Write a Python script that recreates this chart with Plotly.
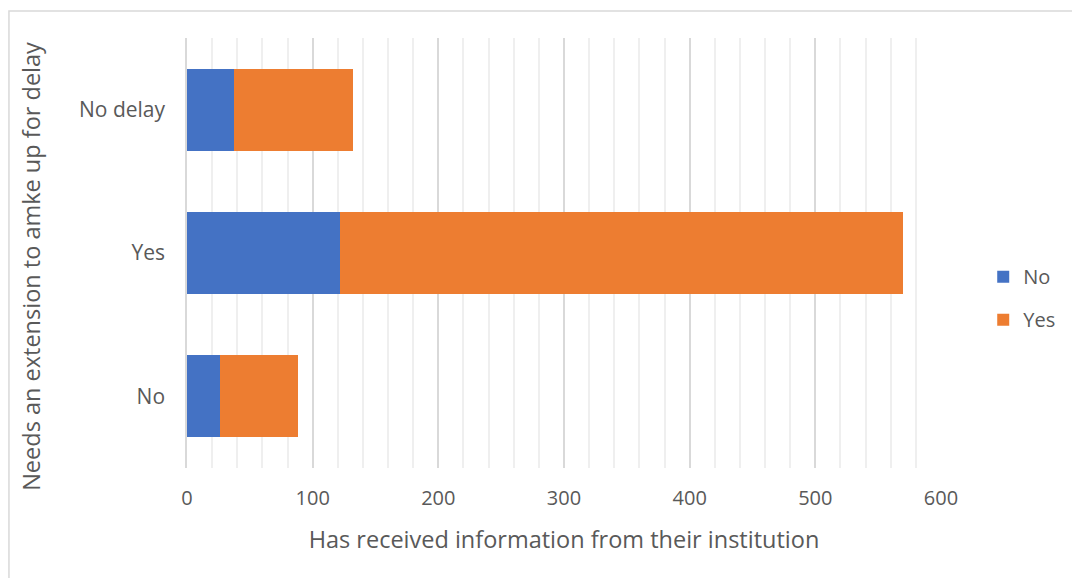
import plotly.graph_objects as go

# Survey responses: need for an extension vs. information received from institution
categories = ["No", "Yes", "No delay"]
received_no = [26, 122, 37]
received_yes = [62, 448, 95]
x_ticks = [0, 100, 200, 300, 400, 500, 600]

FONT = "Open Sans"
GREY = "#595959"

fig = go.Figure()
fig.add_trace(go.Bar(
    y=categories, x=received_no, orientation="h", name="No",
    marker=dict(color="#4472C4", line=dict(width=0)), legendgroup="a",
))
fig.add_trace(go.Bar(
    y=categories, x=received_yes, orientation="h", name="Yes",
    marker=dict(color="#ED7D31", line=dict(width=0)), legendgroup="b",
))

fig.update_layout(
    width=1072, height=578,
    margin=dict(l=187, r=127, t=38, b=110),
    barmode="stack", bargap=0.427,
    plot_bgcolor="white", paper_bgcolor="white",
    font=dict(family=FONT, size=20, color=GREY),
    showlegend=True,
    legend=dict(
        x=1.056, xanchor="left", y=0.395, yanchor="middle",
        traceorder="grouped", tracegroupgap=14,
        font=dict(family=FONT, size=20, color=GREY),
        bgcolor="rgba(0,0,0,0)",
    ),
    xaxis=dict(
        range=[0, 600], tickvals=x_ticks, ticktext=[str(v) for v in x_ticks],
        showgrid=True, gridcolor="#d9d9d9", gridwidth=1.5,
        minor=dict(dtick=20, showgrid=True, gridcolor="#efefef", gridwidth=1.5),
        zeroline=False, showline=False,
        ticks="", ticklabelstandoff=16,
        tickfont=dict(family=FONT, size=20, color=GREY),
        title=dict(text="Has received information from their institution",
                   standoff=21, font=dict(family=FONT, size=23.5, color=GREY)),
        fixedrange=True,
    ),
    yaxis=dict(
        categoryorder="array", categoryarray=categories,
        showgrid=False, zeroline=False,
        showline=True, linecolor="#d9d9d9", linewidth=1.5,
        ticks="", ticklabelstandoff=16,
        tickfont=dict(family=FONT, size=21, color=GREY),
        fixedrange=True,
    ),
    annotations=[dict(
        text="Needs an extension to amke up for delay",
        xref="paper", yref="paper",
        x=(30 - 187) / 758, y=(468 - 266) / 430,
        xanchor="center", yanchor="middle", textangle=-90, showarrow=False,
        font=dict(family=FONT, size=23.5, color=GREY),
    )],
    shapes=[dict(
        type="rect", xref="paper", yref="paper",
        x0=(8 - 187) / 758, x1=(1090 - 187) / 758,
        y0=(468 - 600) / 430, y1=(468 - 11) / 430,
        line=dict(color="#d9d9d9", width=1.5), fillcolor="rgba(0,0,0,0)",
        layer="below",
    )],
)

fig.write_html("out.html")
